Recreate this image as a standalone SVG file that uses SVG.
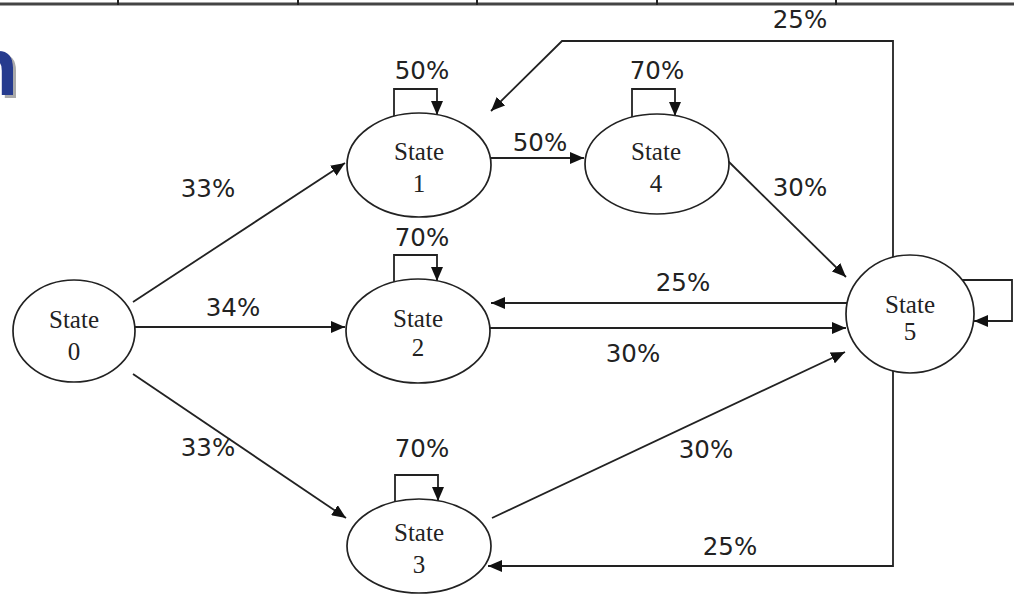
<svg xmlns="http://www.w3.org/2000/svg" width="1014" height="595" viewBox="0 0 1014 595">
<defs>
<style>
.st{fill:#fff;stroke:#222;stroke-width:1.7}
.sl{font-family:"Liberation Serif","Times New Roman",serif;font-size:25px;fill:#222;text-anchor:middle}
.pl{font-family:"DejaVu Sans",Verdana,sans-serif;font-size:24.5px;fill:#222;text-anchor:middle}
.ed{fill:none;stroke:#222;stroke-width:1.8;marker-end:url(#ah)}
</style>
<marker id="ah" markerUnits="userSpaceOnUse" markerWidth="14" markerHeight="12" refX="14" refY="6" orient="auto">
<path d="M0,0 L14,6 L0,12 z" fill="#111"/>
</marker>
<filter id="sh" x="-50%" y="-50%" width="200%" height="200%">
<feDropShadow dx="3" dy="3" stdDeviation="0.6" flood-color="#aaa" flood-opacity="1"/>
</filter>
</defs>
<rect width="1014" height="595" fill="#fff"/>
<g id="header">
<line x1="0" y1="4" x2="1014" y2="4" stroke="#444" stroke-width="3"/>
<path d="M118,0V5 M298,0V5 M477,0V5 M657,0V5 M836,0V5" stroke="#222" stroke-width="2"/>
<text x="-32" y="95" font-family="Liberation Sans,Arial,sans-serif" font-weight="bold" font-size="82" fill="#253a8e" filter="url(#sh)">n</text>
</g>
<g id="connectors">
<path class="ed" d="M133,302 L345,163"/>
<path class="ed" d="M135,327 L345,327"/>
<path class="ed" d="M133,374 L346,518"/>
<path class="ed" d="M491,158 L584,158"/>
<path class="ed" d="M728,161 L846,277"/>
<path class="ed" d="M847,303 L491,303"/>
<path class="ed" d="M490,328 L846,328"/>
<path class="ed" d="M492,518 L845,352"/>
<path class="ed" d="M893,257 V41 H562 L491,111"/>
<path class="ed" d="M893,371 V566 H488"/>
<path class="ed" d="M394,116 V89 H437 V115"/>
<path class="ed" d="M632,117 V89 H675 V116"/>
<path class="ed" d="M394,282 V255 H437 V281"/>
<path class="ed" d="M395,502 V475 H438 V501"/>
<path class="ed" d="M962,280 H1012 V321 H974"/>
<text class="pl" x="208" y="197">33%</text>
<text class="pl" x="233" y="316">34%</text>
<text class="pl" x="208" y="456">33%</text>
<text class="pl" x="422" y="79">50%</text>
<text class="pl" x="540" y="151">50%</text>
<text class="pl" x="657" y="79">70%</text>
<text class="pl" x="800" y="196">30%</text>
<text class="pl" x="422" y="246">70%</text>
<text class="pl" x="683" y="291">25%</text>
<text class="pl" x="633" y="362">30%</text>
<text class="pl" x="422" y="457">70%</text>
<text class="pl" x="706" y="458">30%</text>
<text class="pl" x="730" y="555">25%</text>
<text class="pl" x="800" y="28">25%</text>
</g>
<g id="state0"><ellipse class="st" cx="74" cy="331" rx="61" ry="51"/><text class="sl" x="74" y="328">State</text><text class="sl" x="74" y="360">0</text></g>
<g id="state1"><ellipse class="st" cx="419" cy="165" rx="72" ry="52"/><text class="sl" x="419" y="160">State</text><text class="sl" x="419" y="192">1</text></g>
<g id="state4"><ellipse class="st" cx="657" cy="164" rx="72" ry="50"/><text class="sl" x="656" y="160">State</text><text class="sl" x="656" y="192">4</text></g>
<g id="state2"><ellipse class="st" cx="418" cy="331" rx="72" ry="52"/><text class="sl" x="418" y="327">State</text><text class="sl" x="418" y="356">2</text></g>
<g id="state3"><ellipse class="st" cx="419" cy="546" rx="72" ry="47"/><text class="sl" x="419" y="541">State</text><text class="sl" x="419" y="573">3</text></g>
<g id="state5"><ellipse class="st" cx="910" cy="314" rx="64" ry="59"/><text class="sl" x="910" y="313">State</text><text class="sl" x="910" y="340">5</text></g>
</svg>
